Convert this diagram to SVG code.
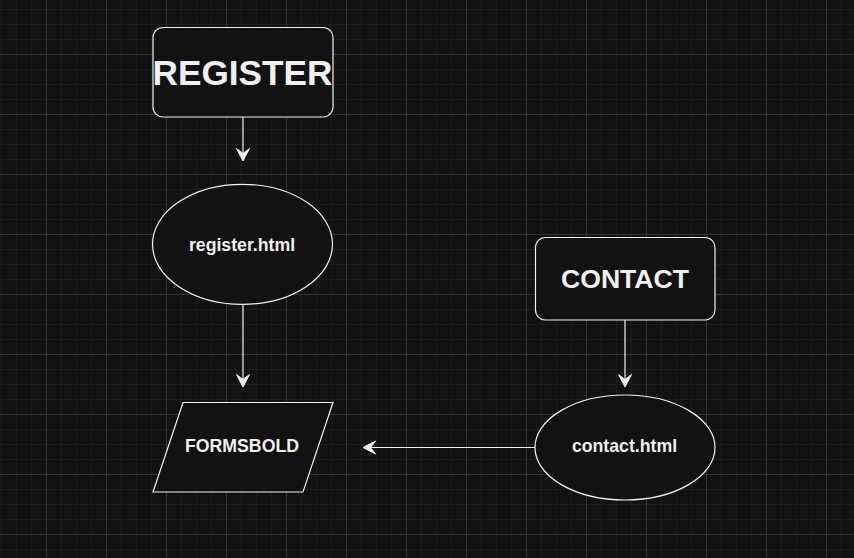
<svg xmlns="http://www.w3.org/2000/svg" width="854" height="558" viewBox="0 0 854 558">
<style>
.node{fill:#121212;stroke:#f0f0f0;stroke-width:1.2}
.lbl{fill:#f0f0f0;font-family:"Liberation Sans",Arial,sans-serif;font-weight:bold;text-anchor:middle}
.edge{fill:none;stroke:#f0f0f0;stroke-width:1.2}
.head{fill:#f0f0f0;stroke:#f0f0f0;stroke-width:1}
</style>
<defs>
<pattern id="minor" patternUnits="userSpaceOnUse" x="1" y="9" width="15" height="15">
<path d="M0 0.5H15M0.5 0V15" stroke="#1d1d1d" stroke-width="1" fill="none"/>
</pattern>
<pattern id="major" patternUnits="userSpaceOnUse" x="46" y="54" width="60" height="60">
<path d="M0 0.5H60M0.5 0V60" stroke="#353535" stroke-width="1" fill="none"/>
</pattern>
</defs>
<rect width="854" height="558" fill="#121212"/>
<rect width="854" height="558" fill="url(#minor)"/>
<rect width="854" height="558" fill="url(#major)"/>
<g id="connectors">
<path class="edge" d="M243 117V154"/>
<path class="head" d="M243 161L236.5 148.5L243 153.5L249.5 148.5Z"/>
<path class="edge" d="M243 304.5V380"/>
<path class="head" d="M243 387L236.5 374.5L243 379.5L249.5 374.5Z"/>
<path class="edge" d="M625 320V380"/>
<path class="head" d="M625 387L618.5 374.5L625 379.5L631.5 374.5Z"/>
<path class="edge" d="M535 447.5H370"/>
<path class="head" d="M363 447.5L375.5 441L370.5 447.5L375.5 454Z"/>
</g>
<g id="register">
<rect class="node" x="153" y="27.5" width="180" height="89.5" rx="10"/>
<text class="lbl" x="242.5" y="84.5" font-size="35.2">REGISTER</text>
</g>
<g id="register-html">
<ellipse class="node" cx="242.5" cy="244.3" rx="90" ry="60"/>
<text class="lbl" x="242" y="250.5" font-size="17.7">register.html</text>
</g>
<g id="formsbold">
<path class="node" d="M183 402.5H333L303 492H153Z"/>
<text class="lbl" x="242" y="452" font-size="17.7">FORMSBOLD</text>
</g>
<g id="contact">
<rect class="node" x="535.5" y="237.5" width="179.5" height="82.5" rx="10"/>
<text class="lbl" x="625" y="287.7" font-size="26.6">CONTACT</text>
</g>
<g id="contact-html">
<ellipse class="node" cx="625" cy="447.5" rx="90" ry="52.5"/>
<text class="lbl" x="624.5" y="451.7" font-size="17.7">contact.html</text>
</g>
</svg>
